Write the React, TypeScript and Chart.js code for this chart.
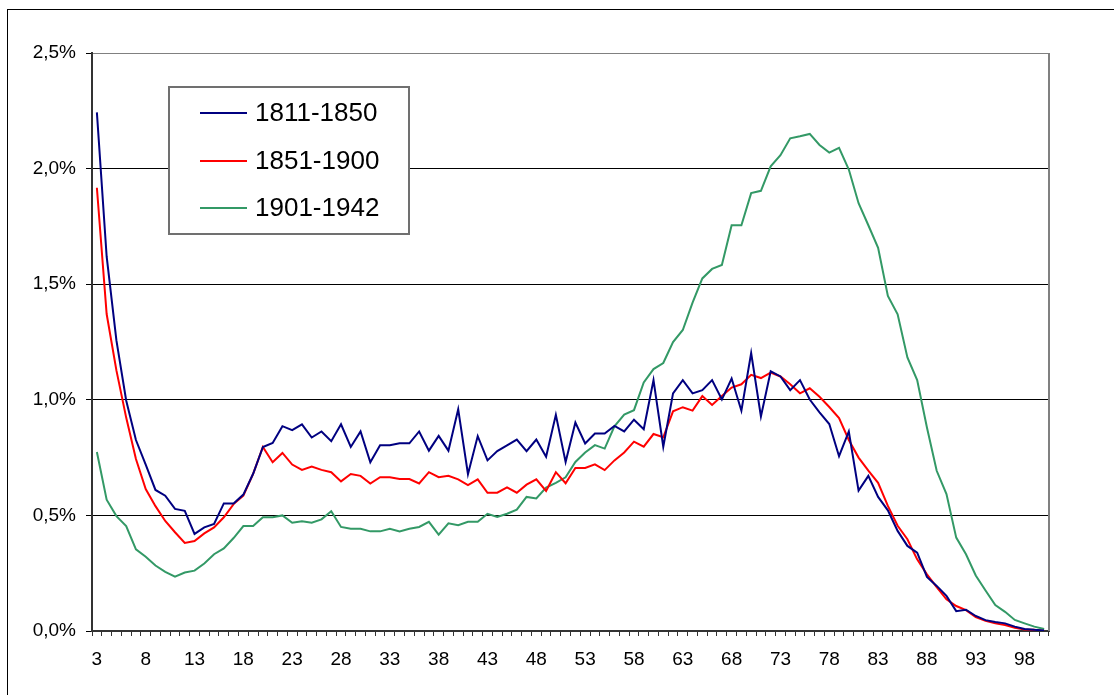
import React, { useEffect, useRef } from 'react';
import { Chart, registerables } from 'chart.js';

Chart.register(...registerables);

const ages = [
  3, 4, 5, 6, 7, 8, 9, 10, 11, 12,
  13, 14, 15, 16, 17, 18, 19, 20, 21, 22,
  23, 24, 25, 26, 27, 28, 29, 30, 31, 32,
  33, 34, 35, 36, 37, 38, 39, 40, 41, 42,
  43, 44, 45, 46, 47, 48, 49, 50, 51, 52,
  53, 54, 55, 56, 57, 58, 59, 60, 61, 62,
  63, 64, 65, 66, 67, 68, 69, 70, 71, 72,
  73, 74, 75, 76, 77, 78, 79, 80, 81, 82,
  83, 84, 85, 86, 87, 88, 89, 90, 91, 92,
  93, 94, 95, 96, 97, 98, 99, 100,
];

const xTickLabels = ['3', '8', '13', '18', '23', '28', '33', '38', '43', '48', '53', '58', '63', '68', '73', '78', '83', '88', '93', '98'];
const yTickValues = [0, 0.5, 1, 1.5, 2, 2.5];
const yTickLabels = ['0,0%', '0,5%', '1,0%', '1,5%', '2,0%', '2,5%'];

const seriesNames = ['1811-1850', '1851-1900', '1901-1942'];
const seriesColors = ['#000080', '#FF0000', '#339966'];

const s1811 = [
  2.243, 1.62, 1.257, 0.997, 0.826, 0.72, 0.61, 0.585, 0.528, 0.52,
  0.42, 0.448, 0.463, 0.552, 0.552, 0.59, 0.68, 0.796, 0.813, 0.886,
  0.869, 0.894, 0.837, 0.863, 0.821, 0.894, 0.796, 0.863, 0.73, 0.803,
  0.803, 0.812, 0.812, 0.863, 0.78, 0.844, 0.78, 0.959, 0.678, 0.843,
  0.738, 0.778, 0.803, 0.828, 0.778, 0.828, 0.754, 0.935, 0.731, 0.902,
  0.811, 0.854, 0.854, 0.887, 0.863, 0.914, 0.873, 1.085, 0.797, 1.028,
  1.085, 1.028, 1.042, 1.085, 1.001, 1.092, 0.953, 1.202, 0.928, 1.123,
  1.101, 1.042, 1.085, 1.001, 0.946, 0.895, 0.756, 0.863, 0.607, 0.671,
  0.58, 0.522, 0.433, 0.368, 0.339, 0.234, 0.195, 0.152, 0.086, 0.092,
  0.065, 0.047, 0.039, 0.033, 0.019, 0.009, 0.005, 0.002,
];

const s1851 = [
  1.917, 1.371, 1.127, 0.923, 0.744, 0.614, 0.54, 0.476, 0.427, 0.381,
  0.389, 0.422, 0.448, 0.492, 0.549, 0.585, 0.68, 0.796, 0.73, 0.77,
  0.72, 0.697, 0.711, 0.697, 0.687, 0.647, 0.679, 0.671, 0.638, 0.665,
  0.665, 0.657, 0.657, 0.638, 0.687, 0.665, 0.671, 0.656, 0.631, 0.656,
  0.598, 0.598, 0.621, 0.598, 0.633, 0.656, 0.606, 0.687, 0.639, 0.705,
  0.705, 0.721, 0.696, 0.738, 0.772, 0.819, 0.797, 0.852, 0.838, 0.95,
  0.968, 0.953, 1.016, 0.978, 1.016, 1.053, 1.067, 1.108, 1.094, 1.118,
  1.101, 1.067, 1.028, 1.05, 1.013, 0.969, 0.921, 0.826, 0.75, 0.694,
  0.641, 0.541, 0.455, 0.397, 0.31, 0.245, 0.19, 0.137, 0.108, 0.09,
  0.06, 0.044, 0.033, 0.026, 0.014, 0.007, 0.005, 0.0,
];

const s1901 = [
  0.774, 0.568, 0.497, 0.454, 0.353, 0.321, 0.283, 0.256, 0.235, 0.253,
  0.261, 0.292, 0.332, 0.357, 0.402, 0.454, 0.454, 0.492, 0.492, 0.5,
  0.468, 0.475, 0.468, 0.483, 0.518, 0.45, 0.442, 0.442, 0.431, 0.431,
  0.442, 0.431, 0.442, 0.45, 0.472, 0.417, 0.466, 0.458, 0.472, 0.472,
  0.507, 0.493, 0.507, 0.525, 0.58, 0.573, 0.62, 0.641, 0.665, 0.731,
  0.772, 0.804, 0.789, 0.885, 0.936, 0.955, 1.075, 1.133, 1.159, 1.25,
  1.302, 1.42, 1.525, 1.566, 1.583, 1.755, 1.755, 1.894, 1.904, 2.01,
  2.058, 2.131, 2.14, 2.15, 2.102, 2.069, 2.09, 1.996, 1.85, 1.755,
  1.657, 1.449, 1.37, 1.183, 1.085, 0.88, 0.693, 0.592, 0.404, 0.332,
  0.24, 0.175, 0.112, 0.083, 0.048, 0.033, 0.019, 0.009,
];

const FONT = '"Liberation Sans", Arial, Helvetica, sans-serif';

const boxLegend = {
  id: 'boxLegend',
  afterDraw(chart: any) {
    const { ctx, chartArea } = chart;
    ctx.save();
    // plot-area right border
    ctx.strokeStyle = '#808080';
    ctx.lineWidth = 2;
    ctx.beginPath();
    ctx.moveTo(chartArea.right, chartArea.top);
    ctx.lineTo(chartArea.right, chartArea.bottom);
    ctx.stroke();

    const x0 = chartArea.left + 77;
    const y0 = chartArea.top + 34;
    const w = 240;
    const h = 147;
    ctx.fillStyle = '#ffffff';
    ctx.fillRect(x0, y0, w, h);
    ctx.strokeStyle = '#707070';
    ctx.lineWidth = 2;
    ctx.strokeRect(x0, y0, w, h);
    chart.data.datasets.forEach((ds: any, i: number) => {
      const cy = Math.round(y0 + 26 + i * 47.5);
      ctx.strokeStyle = ds.borderColor;
      ctx.lineWidth = 2;
      ctx.beginPath();
      ctx.moveTo(x0 + 31, cy);
      ctx.lineTo(x0 + 78, cy);
      ctx.stroke();
      ctx.fillStyle = '#000';
      ctx.font = `26px ${FONT}`;
      ctx.textBaseline = 'middle';
      ctx.textAlign = 'left';
      ctx.fillText(ds.label, x0 + 86, cy + 1);
    });
    ctx.restore();
  },
};

export default function App() {
  const canvasRef = useRef<HTMLCanvasElement | null>(null);

  useEffect(() => {
    if (!canvasRef.current) return;
    const seriesData = [s1811, s1851, s1901];
    const chart = new Chart(canvasRef.current, {
      type: 'line',
      data: {
        labels: ages.map(String),
        datasets: seriesNames.map((name, i) => ({
          label: name,
          data: seriesData[i],
          borderColor: seriesColors[i],
          backgroundColor: seriesColors[i],
          borderWidth: 2,
          pointRadius: 0,
          tension: 0,
          fill: false,
        })),
      },
      options: {
        responsive: false,
        animation: false,
        devicePixelRatio: 1,
        layout: { padding: { left: 0, top: 53, right: 65, bottom: 0 } },
        plugins: {
          legend: { display: false },
          tooltip: { enabled: false },
        },
        scales: {
          x: {
            type: 'category',
            offset: true,
            grid: {
              offset: true,
              drawOnChartArea: false,
              drawTicks: true,
              tickLength: 5,
              color: '#333',
              tickColor: '#333',
            },
            border: { color: '#333', width: 2 },
            ticks: {
              autoSkip: false,
              maxRotation: 0,
              minRotation: 0,
              padding: 12,
              color: '#000',
              font: { size: 19, family: FONT },
              callback: function (this: any, value: any) {
                const l = this.getLabelForValue(value);
                return xTickLabels.includes(l) ? l : '';
              },
            },
            afterFit: (s: any) => {
              s.height = 64;
            },
          },
          y: {
            min: 0,
            max: 2.5,
            afterBuildTicks: (s: any) => {
              s.ticks = yTickValues.map((v) => ({ value: v }));
            },
            grid: {
              color: (c: any) => (c.tick && c.tick.value === 2.5 ? '#808080' : '#000'),
              lineWidth: 1,
              tickLength: 6,
              tickColor: '#000',
            },
            border: { color: '#333', width: 2 },
            ticks: {
              padding: 10,
              color: '#000',
              font: { size: 19, family: FONT },
              callback: (_v: any, i: number) => yTickLabels[i],
            },
            afterFit: (s: any) => {
              s.width = 92;
            },
          },
        },
      },
      plugins: [boxLegend],
    });
    return () => chart.destroy();
  }, []);

  return (
    <div
      style={{
        position: 'fixed',
        left: 0,
        top: 0,
        width: 1114,
        height: 695,
        overflow: 'hidden',
        background: '#fff',
      }}
    >
      <div
        style={{
          position: 'absolute',
          left: 7,
          top: 9,
          width: 1200,
          height: 800,
          border: '1px solid #000',
        }}
      />
      <canvas
        ref={canvasRef}
        width={1114}
        height={695}
        style={{ position: 'absolute', left: 0, top: 0, display: 'block' }}
      />
    </div>
  );
}
